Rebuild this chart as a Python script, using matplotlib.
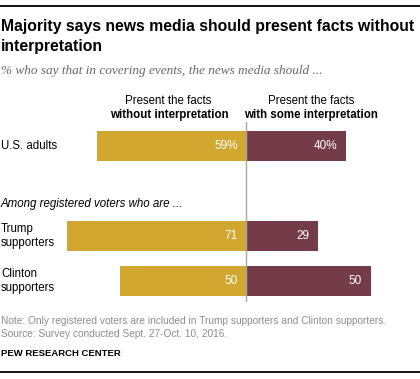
import matplotlib
matplotlib.use("Agg")
import matplotlib.pyplot as plt
from matplotlib.lines import Line2D

categories = ["U.S. adults", "Trump\nsupporters", "Clinton\nsupporters"]
without_interp = [59, 71, 50]
with_interp = [40, 29, 50]
left_labels = ["59%", "71", "50"]
right_labels = ["40%", "29", "50"]

GOLD = "#D1A730"
MAROON = "#733C48"
SANS = ["Liberation Sans", "DejaVu Sans"]

W, H = 420, 379
fig = plt.figure(figsize=(W / 100, H / 100), dpi=100)

def fx(px):
    return px / W

def fy(py):
    return 1 - py / H

# bar axes: pixel area x 0..420, y 122..302
ax = fig.add_axes([0, fy(302), 1, (302 - 122) / H])
scale = 2.51  # px per unit
cx = 245.5
ax.set_xlim(-cx / scale, (W - cx) / scale)
ypos = [0, 2, 3]
ax.set_ylim(3.467, -0.533)
ax.axis("off")

ax.barh(ypos, [-v for v in without_interp], height=0.667, color=GOLD, linewidth=0)
ax.barh(ypos, with_interp, height=0.667, color=MAROON, linewidth=0)
ax.axvline(0, color="#A6A6A6", linewidth=1.0)

for y, lv, rv, ll, rl, cat in zip(ypos, without_interp, with_interp, left_labels, right_labels, categories):
    ax.text(-8 / scale, y, ll, ha="right", va="center", color="white", fontsize=8.5, family=SANS)
    ax.text(rv - 9 / scale, y, rl, ha="right", va="center", color="white", fontsize=8.5, family=SANS)
    ax.text(-cx / scale + 1 / scale, y, cat, ha="left", va="center", color="black",
            fontsize=8.3, family=SANS, linespacing=1.25)

# lines
fig.add_artist(Line2D([0, 1], [fy(6), fy(6)], color="black", linewidth=1.3))
fig.add_artist(Line2D([0, 1], [fy(372), fy(372)], color="black", linewidth=1.3))

# title
fig.text(fx(1), fy(27), "Majority says news media should present facts without", ha="left", va="center",
         fontsize=11.35, fontweight="bold", family=SANS)
fig.text(fx(1), fy(47), "interpretation", ha="left", va="center",
         fontsize=11.35, fontweight="bold", family=SANS)
fig.text(fx(1), fy(71), "% who say that in covering events, the news media should ...", ha="left", va="center",
         fontsize=9.5, style="italic", color="#666666", family=["Liberation Serif", "DejaVu Serif"])

# headers
fig.text(fx(168), fy(101), "Present the facts", ha="center", va="center", fontsize=8.3, family=SANS)
fig.text(fx(169), fy(115), "without interpretation", ha="center", va="center", fontsize=8.3,
         fontweight="bold", family=SANS)
fig.text(fx(311), fy(101), "Present the facts", ha="center", va="center", fontsize=8.3, family=SANS)
fig.text(fx(311), fy(115), "with some interpretation", ha="center", va="center", fontsize=8.3,
         fontweight="bold", family=SANS)

fig.text(fx(1), fy(204), "Among registered voters who are ...", ha="left", va="center", fontsize=8.3,
         style="italic", family=SANS)

# notes
fig.text(fx(1), fy(321), "Note: Only registered voters are included in Trump supporters and Clinton supporters.",
         ha="left", va="center", fontsize=7.3, color="#8C8C8C", family=SANS)
fig.text(fx(1), fy(334), "Source: Survey conducted Sept. 27-Oct. 10, 2016.",
         ha="left", va="center", fontsize=7.3, color="#8C8C8C", family=SANS)
fig.text(fx(1), fy(353), "PEW RESEARCH CENTER", ha="left", va="center", fontsize=6.8,
         fontweight="bold", family=SANS)

fig.savefig("out.png", dpi=100)
